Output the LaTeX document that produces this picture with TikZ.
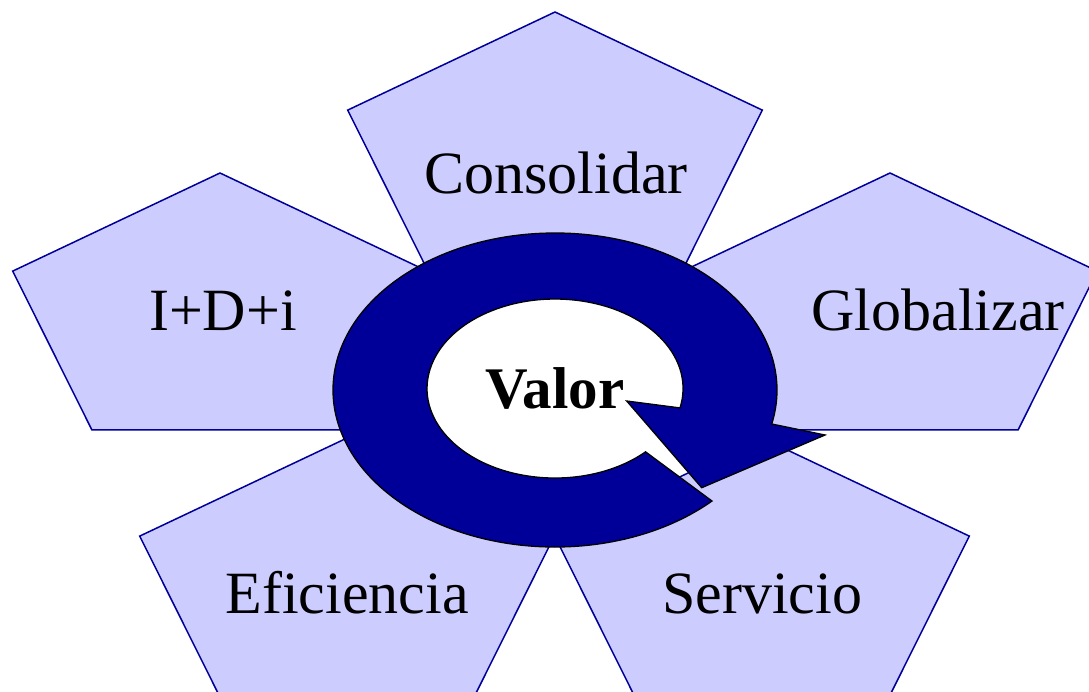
\documentclass[tikz,border=0pt]{standalone}
\usepackage{fontspec}
\setmainfont{Liberation Serif}

\definecolor{petalfill}{RGB}{204,204,255}
\definecolor{petalline}{RGB}{0,0,153}
\definecolor{ringblue}{RGB}{0,0,153}

\tikzset{
  petal/.style={fill=petalfill, draw=petalline, line width=1.5pt, line join=miter},
  ring/.style={fill=ringblue, draw=black, line width=1.3pt, line join=miter},
  lbl/.style={font=\fontsize{60}{72}\selectfont, inner sep=0pt, anchor=base}
}

% one squashed pentagon round a named centre
\newcommand{\petalo}[1]{%
  \path[petal, shift={(#1)}] (0,142) -- (-207.3,43.9) -- (-128.1,-114.9)
    -- (128.1,-114.9) -- (207.3,43.9) -- cycle;}

\begin{document}
\begin{tikzpicture}[x=1pt, y=1pt]
			\useasboundingbox (0,0) rectangle (1089,-691);
			\clip (0,0) rectangle (1089,-691);
			
			% Define petal centres
			\coordinate (top) at (555,-154);
			\coordinate (left) at (220,-315);
			\coordinate (right) at (890,-315);
			\coordinate (botleft) at (347,-580);
			\coordinate (botright) at (762,-580);
			
			% Draw the five petals
			\foreach \p in {top, left, right, botleft, botright}
			  \petalo{\p};
			
			% Circular arrow round the centre
			\path[ring] (555,-390) ++(315:222 and 157)
			  arc[start angle=315, end angle=-12.5, x radius=222, y radius=157]
			  -- (825,-435) -- (701.7,-487.7) -- (626.7,-401) -- (680,-407.9)
			  arc[start angle=-12.5, end angle=315, x radius=128, y radius=89.5]
			  -- cycle;
			
			% Labels
			\node[lbl] (consolidar) at (556,-193) {Consolidar};
			\node[lbl] (idi) at (223,-330) {I+D+i};
			\node[lbl] (globalizar) at (938,-330) {Globalizar};
			\node[lbl] (eficiencia) at (347,-613) {Eficiencia};
			\node[lbl] (servicio) at (762,-613) {Servicio};
			\node[lbl, font=\fontsize{59}{70}\selectfont\bfseries] (valor) at (555,-408) {Valor};
			
		\end{tikzpicture}
\end{document}
